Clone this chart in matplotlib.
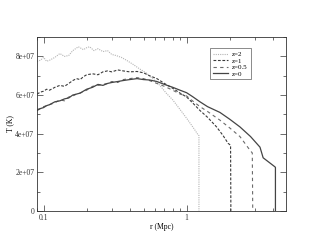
import matplotlib
matplotlib.use("Agg")
import matplotlib.pyplot as plt
from matplotlib.ticker import FixedLocator, FuncFormatter, LogLocator, NullFormatter

plt.rcParams['font.family'] = ['Liberation Serif', 'DejaVu Serif']

# z=2
r_z2 = [0.09, 0.095, 0.1, 0.105, 0.11, 0.12, 0.13, 0.14, 0.15, 0.16, 0.175, 0.19, 0.2, 0.21,
        0.225, 0.24, 0.26, 0.28, 0.3, 0.32, 0.35, 0.38, 0.42, 0.47, 0.52, 0.58, 0.65, 0.72,
        0.8, 0.9, 1.0, 1.08, 1.14, 1.2, 1.22, 1.22]
T_z2 = [7.75, 7.8, 7.95, 7.75, 7.8, 7.95, 8.15, 8.0, 8.05, 8.3, 8.5, 8.35, 8.45, 8.5,
        8.3, 8.4, 8.25, 8.3, 8.1, 8.05, 7.95, 7.8, 7.6, 7.35, 7.15, 6.85, 6.5, 6.1,
        5.75, 5.25, 4.8, 4.45, 4.2, 3.95, 3.9, 0.0]
# z=1
r_z1 = [0.09, 0.095, 0.1, 0.105, 0.11, 0.12, 0.13, 0.14, 0.15, 0.16, 0.17, 0.18, 0.19, 0.2,
        0.22, 0.24, 0.26, 0.28, 0.3, 0.33, 0.36, 0.4, 0.45, 0.5, 0.55, 0.62, 0.7, 0.8, 0.9,
        1.0, 1.1, 1.24, 1.4, 1.62, 1.8, 1.95, 2.03, 2.04]
T_z1 = [6.05, 6.15, 6.2, 6.3, 6.25, 6.4, 6.5, 6.45, 6.6, 6.75, 6.85, 6.8, 6.95, 7.05,
        7.1, 7.05, 7.2, 7.25, 7.2, 7.3, 7.25, 7.2, 7.22, 7.15, 7.0, 6.85, 6.6, 6.35, 6.1,
        5.9, 5.6, 5.2, 4.85, 4.35, 3.9, 3.5, 3.4, 0.0]
# z=0.5
r_z05 = [0.09, 0.095, 0.1, 0.105, 0.11, 0.12, 0.13, 0.14, 0.15, 0.16, 0.17, 0.18, 0.2,
         0.22, 0.24, 0.26, 0.28, 0.3, 0.33, 0.36, 0.4, 0.45, 0.5, 0.55, 0.62, 0.7, 0.8,
         0.9, 1.0, 1.1, 1.24, 1.4, 1.71, 2.0, 2.36, 2.77, 2.88, 2.9]
T_z05 = [5.25, 5.3, 5.4, 5.45, 5.5, 5.6, 5.75, 5.7, 5.9, 5.95, 6.05, 6.1, 6.25,
         6.45, 6.5, 6.55, 6.6, 6.7, 6.65, 6.8, 6.85, 6.9, 6.85, 6.75, 6.6, 6.45, 6.25,
         6.05, 5.95, 5.7, 5.4, 5.15, 4.7, 4.3, 3.85, 3.15, 3.0, 0.0]
# z=0
r_z0 = [0.09, 0.095, 0.1, 0.105, 0.11, 0.12, 0.13, 0.14, 0.15, 0.16, 0.17, 0.18, 0.2,
        0.22, 0.24, 0.26, 0.28, 0.3, 0.33, 0.36, 0.4, 0.45, 0.5, 0.55, 0.62, 0.7, 0.8,
        0.9, 1.0, 1.1, 1.24, 1.4, 1.71, 2.0, 2.36, 2.8, 3.26, 3.43, 3.72, 4.15, 4.18, 4.18]
T_z0 = [5.2, 5.3, 5.35, 5.45, 5.5, 5.65, 5.7, 5.8, 5.85, 6.0, 6.05, 6.1, 6.3,
        6.4, 6.55, 6.5, 6.6, 6.65, 6.7, 6.75, 6.8, 6.85, 6.8, 6.78, 6.7, 6.55, 6.4,
        6.25, 6.12, 5.92, 5.65, 5.4, 5.1, 4.75, 4.35, 3.85, 3.3, 2.75, 2.55, 2.28, 2.25, 0.0]

labels = ['z=2', 'z=1', 'z=0.5', 'z=0']
y_ticks = [0, 2e7, 4e7, 6e7, 8e7]
y_ticklabels = ['0', '2e+07', '4e+07', '6e+07', '8e+07']

fig = plt.figure(figsize=(3.22, 2.49), dpi=100)
ax = fig.add_axes([0.115, 0.153, 0.773, 0.698])

ax.plot(r_z2, [t * 1e7 for t in T_z2], color='#b4b4b4', lw=0.8, ls=(0, (1, 1)), label=labels[0])
ax.plot(r_z1, [t * 1e7 for t in T_z1], color='#3a3a3a', lw=0.8, ls=(0, (2.5, 1.5)), label=labels[1])
ax.plot(r_z05, [t * 1e7 for t in T_z05], color='#6a6a6a', lw=0.8, ls=(0, (3, 3)), label=labels[2])
ax.plot(r_z0, [t * 1e7 for t in T_z0], color='#444444', lw=0.9, ls='-', label=labels[3])

ax.set_xscale('log')
ax.set_xlim(0.09, 4.95)
ax.set_ylim(0, 9e7)
ax.xaxis.set_major_locator(FixedLocator([0.1, 1]))
ax.xaxis.set_major_formatter(FuncFormatter(lambda v, p: {0.1: '0.1', 1: '1'}.get(round(v, 3), '')))
ax.xaxis.set_minor_locator(LogLocator(base=10, subs=range(2, 10)))
ax.xaxis.set_minor_formatter(NullFormatter())
ax.yaxis.set_major_locator(FixedLocator(y_ticks))
ax.set_yticklabels(y_ticklabels)
ax.yaxis.set_minor_locator(FixedLocator([1e7, 3e7, 5e7, 7e7, 9e7]))

ax.tick_params(which='both', direction='in', top=True, right=True, labelsize=5.5,
               width=0.5, colors='#333333', pad=2)
ax.tick_params(which='major', length=4)
ax.tick_params(which='minor', length=2)
for s in ax.spines.values():
    s.set_linewidth(0.6)
    s.set_color('#333333')

ax.set_xlabel('r (Mpc)', fontsize=5.5, labelpad=1)
ax.set_ylabel('T (K)', fontsize=5.5, labelpad=1)

leg = ax.legend(loc='upper left', bbox_to_anchor=(0.695, 0.935), fontsize=5,
                frameon=True, fancybox=False, handlelength=2.2, borderpad=0.4,
                labelspacing=0.1, handletextpad=0.6, borderaxespad=0)
leg.get_frame().set_edgecolor('#333333')
leg.get_frame().set_linewidth(0.5)

fig.savefig('out.png', dpi=100)
